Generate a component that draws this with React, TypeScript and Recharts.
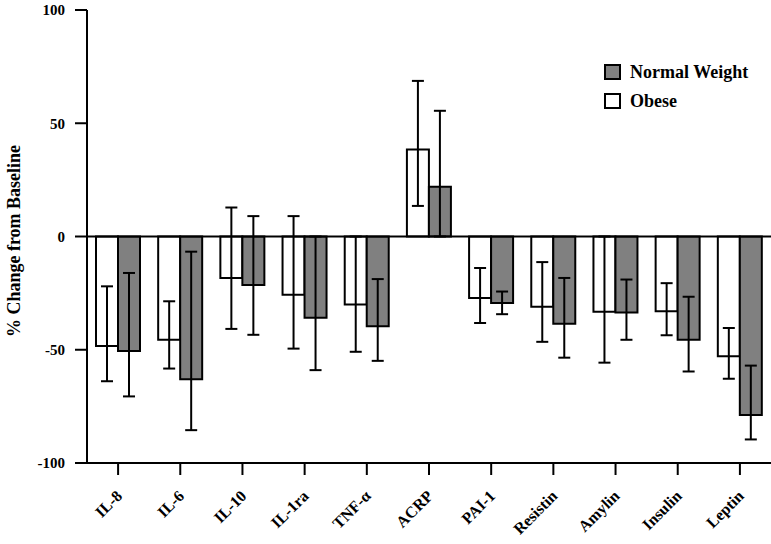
import React from 'react';
import { BarChart, Bar, XAxis, YAxis, ErrorBar, ReferenceLine, Legend, Label } from 'recharts';

const categories = ['IL-8', 'IL-6', 'IL-10', 'IL-1ra', 'TNF-α', 'ACRP', 'PAI-1', 'Resistin', 'Amylin', 'Insulin', 'Leptin'];

const obese = [-48.3, -45.6, -18.3, -25.7, -30.0, 38.4, -27.1, -31.0, -33.2, -33.0, -52.9];
const obeseErrTop = [-22.0, -28.6, 12.8, 9.0, 0, 68.7, -13.9, -11.3, 0, -20.6, -40.4];
const obeseErrBottom = [-63.9, -58.3, -40.8, -49.5, -50.9, 13.5, -38.2, -46.5, -55.7, -43.6, -62.8];

const normal = [-50.5, -63.0, -21.4, -35.9, -39.6, 22.0, -29.4, -38.5, -33.6, -45.6, -78.8];
const normalErrTop = [-16.1, -6.7, 9.0, 0, -18.8, 55.5, -24.3, -18.3, -19.0, -26.6, -57.0];
const normalErrBottom = [-70.6, -85.5, -43.4, -59.0, -54.9, 0, -34.3, -53.5, -45.6, -59.6, -89.6];

const yTicks = [-100, -50, 0, 50, 100];

const data = categories.map((name, i) => ({
  name,
  obese: obese[i],
  obeseErr: [obese[i] - obeseErrBottom[i], obeseErrTop[i] - obese[i]],
  normal: normal[i],
  normalErr: [normal[i] - normalErrBottom[i], normalErrTop[i] - normal[i]],
}));

const FONT = '"Liberation Serif", "Times New Roman", Times, serif';
const GRAY = '#808080';

const XTick = (props: any) => {
  const { x, y, payload } = props;
  const ax = x + 5;
  const ay = y + 20;
  return (
    <text
      x={ax}
      y={ay}
      transform={`rotate(-45, ${ax}, ${ay})`}
      textAnchor="end"
      fontFamily={FONT}
      fontWeight="bold"
      fontSize={16}
      fill="#000"
    >
      {payload.value}
    </text>
  );
};

const YTick = (props: any) => {
  const { x, y, payload } = props;
  return (
    <text
      x={x}
      y={y}
      dy="0.35em"
      textAnchor="end"
      fontFamily={FONT}
      fontWeight="bold"
      fontSize={15}
      fill="#000"
    >
      {payload.value}
    </text>
  );
};

const LegendContent = () => (
  <svg width={170} height={60}>
    <rect x={5} y={7} width={15} height={14} fill={GRAY} stroke="#000" strokeWidth={2} />
    <text x={30} y={20} fontFamily={FONT} fontWeight="bold" fontSize={18} fill="#000">
      Normal Weight
    </text>
    <rect x={5} y={36} width={15} height={14} fill="#fff" stroke="#000" strokeWidth={2} />
    <text x={30} y={49} fontFamily={FONT} fontWeight="bold" fontSize={18} fill="#000">
      Obese
    </text>
  </svg>
);

export default function App() {
  return (
    <div style={{ position: 'absolute', left: 0, top: 0, width: 771, height: 544, background: '#fff' }}>
      <BarChart
        width={771}
        height={544}
        data={data}
        margin={{ top: 10, right: 0, left: 0, bottom: 0 }}
        barCategoryGap={9}
        barGap={0}
      >
        <XAxis
          dataKey="name"
          height={81}
          tick={<XTick />}
          tickSize={12}
          axisLine={{ stroke: '#000', strokeWidth: 2 }}
          tickLine={{ stroke: '#000', strokeWidth: 2 }}
          interval={0}
        />
        <YAxis
          width={87}
          domain={[-100, 100]}
          ticks={yTicks}
          tick={<YTick />}
          tickSize={12}
          tickMargin={10}
          axisLine={{ stroke: '#000', strokeWidth: 2 }}
          tickLine={{ stroke: '#000', strokeWidth: 2 }}
          allowDataOverflow
        >
          <Label
            content={() => (
              <text
                x={20}
                y={241}
                transform="rotate(-90, 20, 241)"
                textAnchor="middle"
                fontFamily={FONT}
                fontWeight="bold"
                fontSize={18}
                fill="#000"
              >
                % Change from Baseline
              </text>
            )}
          />
        </YAxis>
        <ReferenceLine y={0} stroke="#000" strokeWidth={2} />
        <Bar dataKey="obese" name="Obese" fill="#fff" stroke="#000" strokeWidth={2} isAnimationActive={false}>
          <ErrorBar dataKey="obeseErr" width={6} stroke="#000" strokeWidth={2} direction="y" />
        </Bar>
        <Bar dataKey="normal" name="Normal Weight" fill={GRAY} stroke="#000" strokeWidth={2} isAnimationActive={false}>
          <ErrorBar dataKey="normalErr" width={6} stroke="#000" strokeWidth={2} direction="y" />
        </Bar>
        <Legend
          layout="horizontal"
          verticalAlign="middle"
          align="center"
          content={<LegendContent />}
          wrapperStyle={{ position: 'absolute', left: 600, top: 58, width: 170, height: 60 }}
        />
      </BarChart>
    </div>
  );
}
